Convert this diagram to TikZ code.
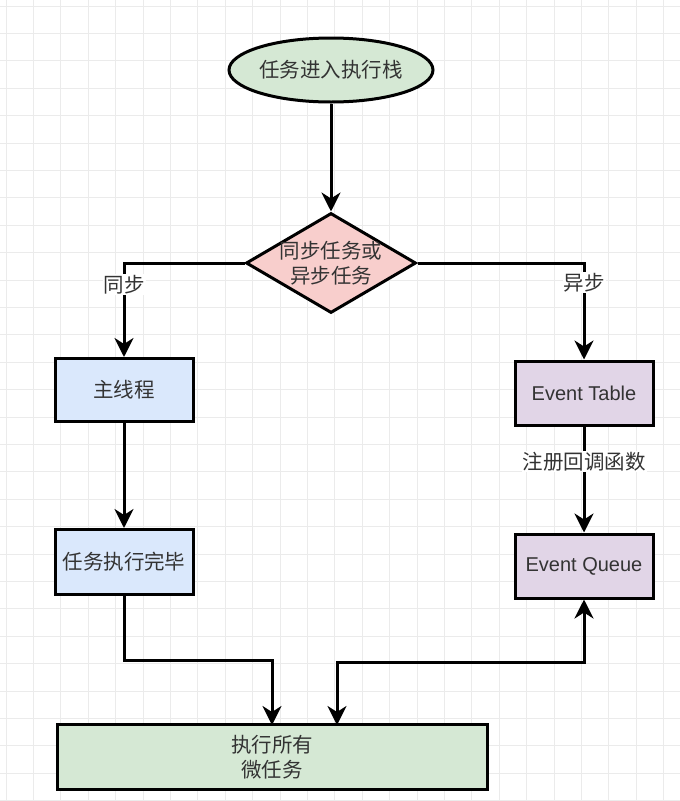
\documentclass[tikz,border=0pt]{standalone}
\usepackage{fontspec}
\setmainfont{Liberation Sans}
\newfontfamily\cjk{Noto Sans CJK SC}
\usetikzlibrary{shapes.geometric,arrows.meta}
\definecolor{gridc}{HTML}{EBEBEB}
\definecolor{txt}{HTML}{333333}
\definecolor{fgreen}{HTML}{D5E8D4}
\definecolor{fred}{HTML}{F8CECC}
\definecolor{fblue}{HTML}{DAE8FC}
\definecolor{fpurple}{HTML}{E1D5E7}
\tikzset{
  tip/.tip={Stealth[length=19pt,width=19pt,inset=6pt]},
  box/.style={draw=black, line width=3pt, inner sep=0pt, minimum width=138pt, text=txt, font=\fontsize{20}{24}\selectfont, align=center},
  cjkfont/.style={font=\cjk\fontsize{20.5}{25}\selectfont},
  conn/.style={draw=black, line width=3pt, -tip},
  lbl/.style={fill=white, inner sep=1pt, text=txt, font=\cjk\fontsize{20.5}{24}\selectfont}
}
\begin{document}
\begin{tikzpicture}[x={(1pt,0)}, y={(0,-1pt)}]
\useasboundingbox (0,0) rectangle (680,801);
\fill[white] (0,0) rectangle (680,801);
% grid
\foreach \i in {0,...,24} {
  \draw[gridc, line width=1pt] ({6+27.4*\i},0) -- ({6+27.4*\i},801);
}
\foreach \i in {0,...,29} {
  \draw[gridc, line width=1pt] (0,{6+27.4*\i}) -- (680,{6+27.4*\i});
}
% nodes
\node[box, ellipse, fill=fgreen, minimum width=204pt, minimum height=64pt, cjkfont] (E) at (331,70) {任务进入执行栈};
\node[draw=black, line width=3pt, diamond, fill=fred, minimum width=170pt, minimum height=100pt, inner sep=0pt,
  label={[text=txt, cjkfont, align=center]center:同步任务或\\异步任务}] (D) at (331,263) {};
\node[box, fill=fblue, minimum height=63pt, cjkfont] (A) at (124,390) {主线程};
\node[box, fill=fblue, minimum height=65pt, cjkfont] (B) at (124,562) {任务执行完毕};
\node[box, fill=fpurple, minimum height=64pt] (T) at (584,393) {Event Table};
\node[box, fill=fpurple, minimum height=64pt] (Q) at (584,566) {Event Queue};
\node[box, fill=fgreen, minimum width=430pt, minimum height=65pt, cjkfont] (M) at (272,757) {执行所有\\微任务};
% connectors
\draw[conn] (E) -- (D);
\draw[conn] (D.west) -| (A.north) node[lbl, pos=0.615] {同步};
\draw[conn] (D.east) -| (T.north) node[lbl, pos=0.6] {异步};
\draw[conn] (A) -- (B);
\draw[conn] (T) -- (Q) node[lbl, pos=0.33] {注册回调函数};
\coordinate (m1) at (272,725);
\coordinate (m2) at (337,725);
\draw[conn] (B.south) -- (124,660) -| (m1);
\draw[conn, tip-tip] (Q.south) -- (584,662) -| (m2);
\end{tikzpicture}
\end{document}
